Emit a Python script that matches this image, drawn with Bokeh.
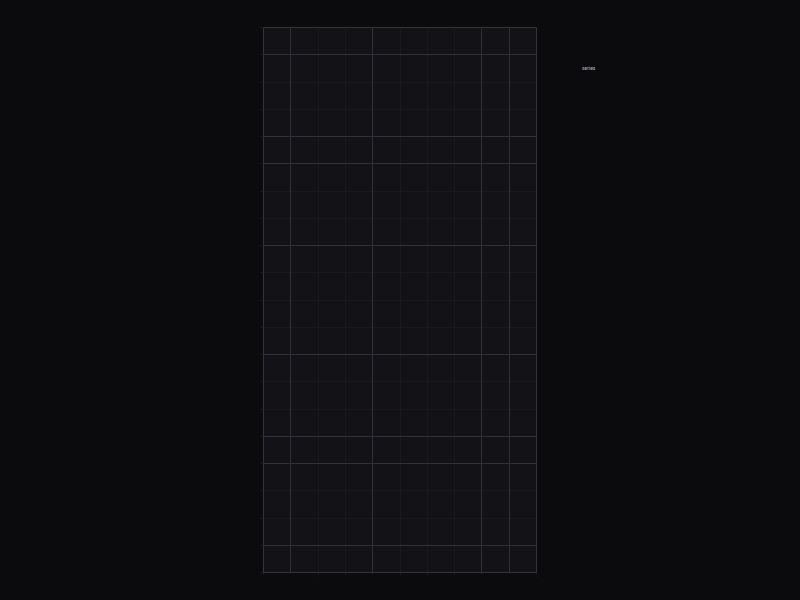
import re
from bokeh.plotting import figure
from bokeh.models import Range1d, FixedTicker, Legend, LegendItem, Grid
from bokeh.embed import file_html
from bokeh.resources import INLINE

# data (series is empty in the reference: only the grid and legend are drawn)
series_name = "series"
x_values = []
y_values = []
x_ticks = list(range(0, 11))
y_ticks = list(range(0, 21))
# grid lines that render crisp (brighter) in the reference
x_bright_ticks = [1, 4, 8, 9]
y_bright_ticks = [1, 4, 5, 8, 12, 15, 16, 19]

PAGE_BG = "#0b0b0d"
PLOT_BG = "#131317"
GRID = "#19191e"
GRID_BRIGHT = "#303036"
OUTLINE = "#333339"
FAINT = "#222227"

p = figure(frame_width=273, frame_height=545, output_backend="svg", toolbar_location=None,
           x_range=Range1d(0, 10), y_range=Range1d(0, 20),
           min_border_left=263, min_border_right=264,
           min_border_top=27, min_border_bottom=28)
p.background_fill_color = PLOT_BG
p.border_fill_color = PAGE_BG
p.outline_line_color = OUTLINE
p.outline_line_width = 1

r = p.line(x_values, y_values, line_color="#9aa0a6", line_width=1)

p.xaxis.ticker = FixedTicker(ticks=x_ticks)
p.yaxis.ticker = FixedTicker(ticks=y_ticks)
for ax in (p.xaxis, p.yaxis):
    ax.axis_line_color = None
    ax.major_tick_line_color = FAINT
    ax.major_tick_out = 2
    ax.major_tick_in = 0
    ax.minor_tick_line_color = None
    ax.major_label_text_font_size = "2px"
    ax.major_label_text_color = FAINT
    ax.major_label_standoff = 1
p.xgrid.grid_line_color = GRID
p.ygrid.grid_line_color = GRID
p.xgrid.grid_line_width = 1
p.ygrid.grid_line_width = 1

p.add_layout(Grid(dimension=0, ticker=FixedTicker(ticks=x_bright_ticks),
                  grid_line_color=GRID_BRIGHT, grid_line_width=1))
p.add_layout(Grid(dimension=1, ticker=FixedTicker(ticks=y_bright_ticks),
                  grid_line_color=GRID_BRIGHT, grid_line_width=1))

legend = Legend(items=[LegendItem(label=series_name, renderers=[r])],
                location="top_left", padding=0, margin=38, spacing=0,
                glyph_width=6, glyph_height=5, label_standoff=2,
                label_height=5, label_text_font_size="5px",
                label_text_color="#bdbdc2", label_text_font="Roboto",
                background_fill_alpha=0, border_line_color=None)
p.add_layout(legend, "right")

html = file_html(p, INLINE)
html = re.sub(r"<body([^>]*)>", r'<body\1 style="background:%s;">' % PAGE_BG, html, count=1)
html = html.replace("</head>", "<style>html{background:%s;}</style></head>" % PAGE_BG, 1)
open("out.html", "w").write(html)
